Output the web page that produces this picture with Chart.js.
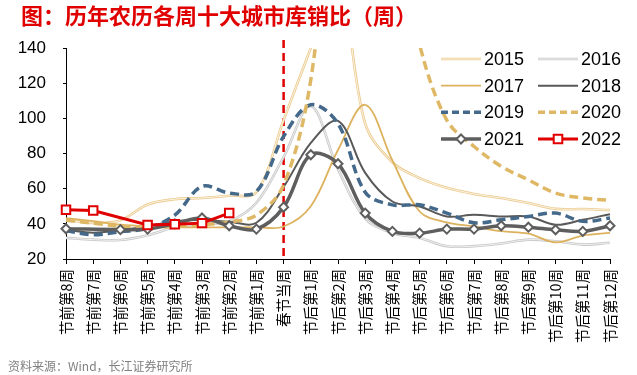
<!DOCTYPE html>
<html>
<head>
<meta charset="utf-8">
<script src="https://cdn.jsdelivr.net/npm/chart.js@4/dist/chart.umd.min.js"></script>
<style>
  html, body { margin: 0; padding: 0; background: #fff; }
  canvas { display: block; }
</style>
</head>
<body>
<canvas id="chart" width="637" height="375"></canvas>
<script>
// 农历周
const categories = ['节前第8周', '节前第7周', '节前第6周', '节前第5周', '节前第4周', '节前第3周', '节前第2周', '节前第1周',
  '春节当周', '节后第1周', '节后第2周', '节后第3周', '节后第4周', '节后第5周', '节后第6周', '节后第7周',
  '节后第8周', '节后第9周', '节后第10周', '节后第11周', '节后第12周'];
const springWeek = '春节当周';

// 库销比, 读自原图 (2015/2020 的峰值超出坐标轴)
const y2015 = [42.5, 40.5, 42, 51, 54, 54.7, 56, 58, 99, 140, 180, 97, 75, 66, 60.5, 57, 54.7, 51.8, 48.5, 48.4, 47.8];
const y2016 = [32, 31, 30.8, 33.5, 38, 40, 41.5, 52, 78, 107, 71, 43, 34.8, 32, 27.3, 27.3, 28.8, 31, 30.1, 28.2, 29.2];
const y2017 = [43.3, 41.5, 39.5, 38.5, 38, 38, 38, 38, 38.5, 50, 82, 107.7, 76, 47, 40.8, 38.5, 35.8, 34.4, 29.5, 33.3, 34.8];
const y2018 = [36.5, 35, 36.5, 38.5, 41.5, 42.2, 41.2, 40.6, 61, 86, 98.5, 69, 52.7, 49.9, 44.2, 45.1, 44.2, 44.2, 39.5, 42.3, 45.5];
const y2019 = [36, 33.8, 35.5, 37.5, 45, 61.3, 57.5, 58.4, 89.7, 107.7, 97, 58, 50.8, 50.8, 46.1, 40.6, 42.3, 44.2, 46.1, 41.4, 43.3];
const y2020 = [42, 40.4, 38.5, 38, 38.5, 39.5, 41, 45, 62, 122, 260, 300, 220, 142, 99, 84, 72.7, 65, 57.5, 54.7, 53.3];
const y2021 = [37.2, null, 36.7, 37, 40, 43.3, 38.9, 37, 49.5, 79.3, 74.2, 46.1, 35.7, 34.7, 37, 37, 38.9, 38.1, 36.6, 35.7, 38.9];
const y2022 = [48, 47.6, null, 39.3, 39.8, 40.4, 46.1, null, null, null, null, null, null, null, null, null, null, null, null, null, null];

const yTicks = [20, 40, 60, 80, 100, 120, 140];

const CJK = '"Noto Sans CJK SC", sans-serif';
const NUM = '"Liberation Sans", Arial, sans-serif';
const RED = '#E00000';

const smooth = { tension: 0.35, pointRadius: 0, fill: false, spanGaps: true };

const datasets = [
  { label: '2015', data: y2015, borderColor: '#EBCB90', borderWidth: 2.6, inner: '#FDF6E9', ...smooth },
  { label: '2016', data: y2016, borderColor: '#C8C8C8', borderWidth: 2.6, inner: '#F4F4F4', ...smooth },
  { label: '2017', data: y2017, borderColor: '#DDB25E', borderWidth: 1.8, ...smooth },
  { label: '2018', data: y2018, borderColor: '#595959', borderWidth: 2, ...smooth },
  { label: '2019', data: y2019, borderColor: '#44698A', borderWidth: 3.5, borderDash: [9, 5], ...smooth },
  { label: '2020', data: y2020, borderColor: '#DFB866', borderWidth: 3.5, borderDash: [9, 5], ...smooth },
  { label: '2021', data: y2021, borderColor: '#5E5E5E', borderWidth: 3.5, ...smooth,
    pointRadius: 4.5, pointStyle: 'rectRot', pointBackgroundColor: '#fff', pointBorderColor: '#5E5E5E', pointBorderWidth: 2 },
  { label: '2022', data: y2022, borderColor: RED, borderWidth: 3, tension: 0, spanGaps: true, fill: false,
    pointRadius: 6, pointStyle: 'rect', pointBackgroundColor: '#fff', pointBorderColor: RED, pointBorderWidth: 2 }
];
// 后面的系列画在上层
datasets.forEach((d, i) => { d.order = datasets.length - i; });

const doubleLine = {
  id: 'doubleLine',
  afterDatasetDraw(chart, args) {
    const ds = chart.data.datasets[args.index];
    if (!ds.inner) return;
    const el = args.meta.dataset;
    const a = chart.chartArea;
    const ctx = chart.ctx;
    try {
      const p = new Path2D();
      el.path(p);
      ctx.save();
      ctx.beginPath();
      ctx.rect(a.left, a.top - 1, a.right - a.left, a.bottom - a.top + 1);
      ctx.clip();
      ctx.strokeStyle = ds.inner;
      ctx.lineWidth = 0.9;
      ctx.stroke(p);
      ctx.restore();
    } catch (e) {}
  }
};

const springLine = {
  id: 'springLine',
  beforeDatasetsDraw(chart) {
    const ctx = chart.ctx;
    const x = chart.scales.x.getPixelForValue(categories.indexOf(springWeek));
    ctx.save();
    ctx.strokeStyle = RED;
    ctx.lineWidth = 2.5;
    ctx.setLineDash([8, 5]);
    ctx.beginPath();
    ctx.moveTo(x, chart.chartArea.top - 8);
    ctx.lineTo(x, chart.chartArea.bottom);
    ctx.stroke();
    ctx.restore();
  }
};

function drawMarker(ctx, ds, cx, cy) {
  ctx.save();
  ctx.setLineDash([]);
  ctx.fillStyle = ds.pointBackgroundColor;
  ctx.strokeStyle = ds.pointBorderColor;
  ctx.lineWidth = ds.pointBorderWidth;
  ctx.beginPath();
  if (ds.pointStyle === 'rect') {
    const h = 4.3;
    ctx.rect(cx - h, cy - h, 2 * h, 2 * h);
  } else {
    const r = 4.5;
    ctx.moveTo(cx, cy - r); ctx.lineTo(cx + r, cy); ctx.lineTo(cx, cy + r); ctx.lineTo(cx - r, cy); ctx.closePath();
  }
  ctx.fill();
  ctx.stroke();
  ctx.restore();
}

const sideLegend = {
  id: 'sideLegend',
  afterDraw(chart) {
    const ctx = chart.ctx;
    const colX = [441, 538];
    const rowY = [59, 85.7, 112.3, 139];
    chart.data.datasets.forEach((ds, i) => {
      const x = colX[i % 2];
      const y = rowY[Math.floor(i / 2)];
      ctx.save();
      ctx.strokeStyle = ds.borderColor;
      ctx.lineWidth = ds.borderWidth;
      ctx.setLineDash(ds.borderDash ? [7, 4] : []);
      ctx.beginPath();
      ctx.moveTo(x, y);
      ctx.lineTo(x + 40, y);
      ctx.stroke();
      if (ds.inner) {
        ctx.strokeStyle = ds.inner;
        ctx.lineWidth = 0.9;
        ctx.beginPath();
        ctx.moveTo(x, y);
        ctx.lineTo(x + 40, y);
        ctx.stroke();
      }
      ctx.restore();
      if (ds.pointRadius) drawMarker(ctx, ds, x + 20, y);
      ctx.save();
      ctx.fillStyle = '#000';
      ctx.font = '18px ' + NUM;
      ctx.textBaseline = 'middle';
      ctx.fillText(ds.label, x + 43, y + 1);
      ctx.restore();
    });
  }
};

const texts = {
  id: 'texts',
  afterDraw(chart) {
    const ctx = chart.ctx;
    ctx.save();
    ctx.fillStyle = RED;
    ctx.font = 'bold 22px ' + CJK;
    ctx.textBaseline = 'middle';
    ctx.fillText('图：历年农历各周十大城市库销比（周）', 21, 16);
    ctx.fillStyle = '#808080';
    ctx.font = '12px ' + CJK;
    ctx.fillText('资料来源：Wind，长江证券研究所', 8, 366);
    ctx.restore();
  }
};

new Chart(document.getElementById('chart'), {
  type: 'line',
  plugins: [springLine, doubleLine, sideLegend, texts],
  data: {
    labels: categories,
    datasets: datasets
  },
  options: {
    responsive: false,
    animation: false,
    layout: {
      padding: { top: 48, right: 27, left: 0, bottom: 0 }
    },
    plugins: {
      legend: { display: false },
      tooltip: { enabled: false }
    },
    scales: {
      x: {
        offset: false,
        border: { color: '#000', width: 1 },
        grid: { drawOnChartArea: false, drawTicks: true, tickLength: 5, color: '#000', offset: false },
        ticks: {
          autoSkip: false,
          minRotation: 90,
          maxRotation: 90,
          padding: 5,
          color: '#000',
          font: { family: CJK, size: 14.5 }
        },
        afterFit(scale) { scale.height = 116; }
      },
      y: {
        min: yTicks[0],
        max: yTicks[yTicks.length - 1],
        border: { color: '#000', width: 1 },
        grid: { drawOnChartArea: false, drawTicks: true, tickLength: 3, color: '#000' },
        ticks: {
          stepSize: yTicks[1] - yTicks[0],
          padding: 17,
          color: '#000',
          font: { family: NUM, size: 17 }
        },
        afterFit(scale) { scale.width = 66; }
      }
    }
  }
});
</script>
</body>
</html>
